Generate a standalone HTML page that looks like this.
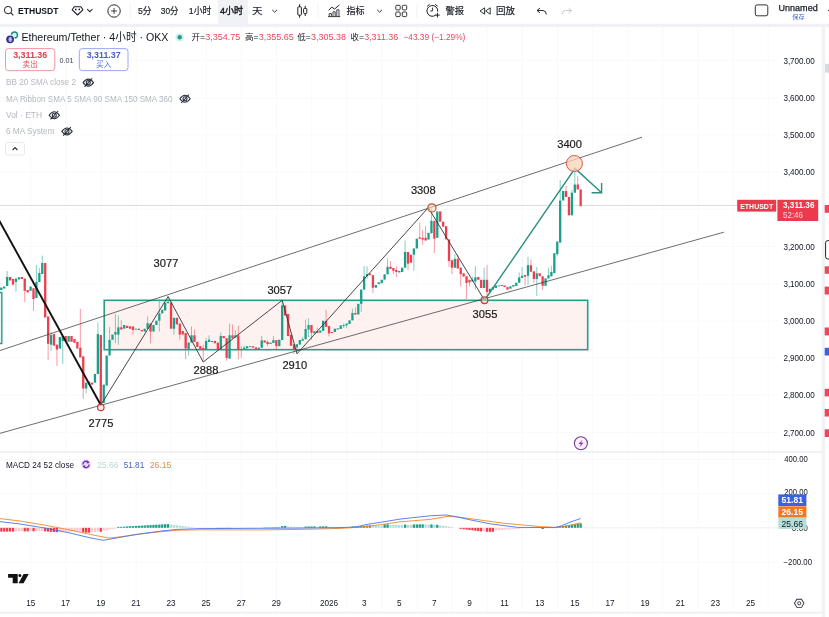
<!DOCTYPE html><html lang="zh"><head><meta charset="utf-8"><title>ETHUSDT</title>
<style>html,body{margin:0;padding:0;background:#fff;overflow:hidden}svg{display:block;filter:blur(0.35px)}text{font-family:'Liberation Sans','Noto Sans CJK SC',sans-serif;dominant-baseline:alphabetic}</style></head><body>
<svg width="829" height="617" viewBox="0 0 829 617">
<rect width="829" height="617" fill="#ffffff"/>
<rect x="0" y="23.8" width="829" height="3.2" fill="#f0f1f4"/>
<rect x="821.7" y="23.8" width="3.5" height="593.2" fill="#f1f2f5"/>
<rect x="0" y="611.6" width="822" height="2.2" fill="#f1f2f5"/>
<rect x="825" y="63.8" width="4" height="8.8" fill="#d9dadd"/>
<line x1="30.7" y1="27" x2="30.7" y2="611" stroke="#f6f7f9" stroke-width="0.8"/>
<line x1="65.8" y1="27" x2="65.8" y2="611" stroke="#f6f7f9" stroke-width="0.8"/>
<line x1="100.9" y1="27" x2="100.9" y2="611" stroke="#f6f7f9" stroke-width="0.8"/>
<line x1="136.1" y1="27" x2="136.1" y2="611" stroke="#f6f7f9" stroke-width="0.8"/>
<line x1="171.2" y1="27" x2="171.2" y2="611" stroke="#f6f7f9" stroke-width="0.8"/>
<line x1="206.3" y1="27" x2="206.3" y2="611" stroke="#f6f7f9" stroke-width="0.8"/>
<line x1="241.4" y1="27" x2="241.4" y2="611" stroke="#f6f7f9" stroke-width="0.8"/>
<line x1="276.5" y1="27" x2="276.5" y2="611" stroke="#f6f7f9" stroke-width="0.8"/>
<line x1="311.7" y1="27" x2="311.7" y2="611" stroke="#f6f7f9" stroke-width="0.8"/>
<line x1="346.8" y1="27" x2="346.8" y2="611" stroke="#f6f7f9" stroke-width="0.8"/>
<line x1="381.9" y1="27" x2="381.9" y2="611" stroke="#f6f7f9" stroke-width="0.8"/>
<line x1="417.0" y1="27" x2="417.0" y2="611" stroke="#f6f7f9" stroke-width="0.8"/>
<line x1="452.1" y1="27" x2="452.1" y2="611" stroke="#f6f7f9" stroke-width="0.8"/>
<line x1="487.3" y1="27" x2="487.3" y2="611" stroke="#f6f7f9" stroke-width="0.8"/>
<line x1="522.4" y1="27" x2="522.4" y2="611" stroke="#f6f7f9" stroke-width="0.8"/>
<line x1="557.5" y1="27" x2="557.5" y2="611" stroke="#f6f7f9" stroke-width="0.8"/>
<line x1="592.6" y1="27" x2="592.6" y2="611" stroke="#f6f7f9" stroke-width="0.8"/>
<line x1="627.7" y1="27" x2="627.7" y2="611" stroke="#f6f7f9" stroke-width="0.8"/>
<line x1="662.9" y1="27" x2="662.9" y2="611" stroke="#f6f7f9" stroke-width="0.8"/>
<line x1="698.0" y1="27" x2="698.0" y2="611" stroke="#f6f7f9" stroke-width="0.8"/>
<line x1="733.1" y1="27" x2="733.1" y2="611" stroke="#f6f7f9" stroke-width="0.8"/>
<line x1="768.2" y1="27" x2="768.2" y2="611" stroke="#f6f7f9" stroke-width="0.8"/>
<line x1="0" y1="432.6" x2="778" y2="432.6" stroke="#f6f7f9" stroke-width="0.8"/>
<line x1="0" y1="395.4" x2="778" y2="395.4" stroke="#f6f7f9" stroke-width="0.8"/>
<line x1="0" y1="358.2" x2="778" y2="358.2" stroke="#f6f7f9" stroke-width="0.8"/>
<line x1="0" y1="321.0" x2="778" y2="321.0" stroke="#f6f7f9" stroke-width="0.8"/>
<line x1="0" y1="283.8" x2="778" y2="283.8" stroke="#f6f7f9" stroke-width="0.8"/>
<line x1="0" y1="246.6" x2="778" y2="246.6" stroke="#f6f7f9" stroke-width="0.8"/>
<line x1="0" y1="209.4" x2="778" y2="209.4" stroke="#f6f7f9" stroke-width="0.8"/>
<line x1="0" y1="172.2" x2="778" y2="172.2" stroke="#f6f7f9" stroke-width="0.8"/>
<line x1="0" y1="135.0" x2="778" y2="135.0" stroke="#f6f7f9" stroke-width="0.8"/>
<line x1="0" y1="97.8" x2="778" y2="97.8" stroke="#f6f7f9" stroke-width="0.8"/>
<line x1="0" y1="60.6" x2="778" y2="60.6" stroke="#f6f7f9" stroke-width="0.8"/>
<line x1="0" y1="459.5" x2="778" y2="459.5" stroke="#f6f7f9" stroke-width="0.8"/>
<line x1="0" y1="493.6" x2="778" y2="493.6" stroke="#f6f7f9" stroke-width="0.8"/>
<line x1="0" y1="527.7" x2="778" y2="527.7" stroke="#f6f7f9" stroke-width="0.8"/>
<line x1="0" y1="561.8" x2="778" y2="561.8" stroke="#f6f7f9" stroke-width="0.8"/>
<line x1="0" y1="452" x2="822" y2="452" stroke="#e0e3eb" stroke-width="1"/>
<rect x="104.2" y="300.3" width="483.5" height="49.4" fill="#fdf1ee" fill-opacity="0.9" stroke="#2a9d8a" stroke-width="1.6"/>
<path d="M-5 292.5 H1.8 V343.5 H-5" fill="#e9f6f3" stroke="#2a9d8a" stroke-width="1.4"/>
<line x1="0" y1="205.4" x2="737" y2="205.4" stroke="#cfcfd2" stroke-width="0.7"/>
<rect x="0.17" y="287.5" width="2.3" height="2.5" fill="#1a9f8a"/>
<rect x="3.09" y="286.5" width="2.3" height="2.0" fill="#1a9f8a"/>
<line x1="7.17" y1="271" x2="7.17" y2="286" stroke="#1a9f8a" stroke-width="0.7" stroke-opacity="0.75"/>
<rect x="6.02" y="277" width="2.3" height="9.0" fill="#1a9f8a"/>
<rect x="8.94" y="277" width="2.3" height="3.5" fill="#ee3d4c"/>
<line x1="13.02" y1="279" x2="13.02" y2="286" stroke="#ee3d4c" stroke-width="0.7" stroke-opacity="0.75"/>
<rect x="11.87" y="279" width="2.3" height="5.5" fill="#ee3d4c"/>
<line x1="15.95" y1="278.6" x2="15.95" y2="291.6" stroke="#1a9f8a" stroke-width="0.7" stroke-opacity="0.75"/>
<rect x="14.80" y="278.6" width="2.3" height="3.4" fill="#1a9f8a"/>
<rect x="17.72" y="277.3" width="2.3" height="2.2" fill="#1a9f8a"/>
<rect x="20.65" y="277" width="2.3" height="2.0" fill="#ee3d4c"/>
<line x1="24.72" y1="278.6" x2="24.72" y2="302" stroke="#ee3d4c" stroke-width="0.7" stroke-opacity="0.75"/>
<rect x="23.57" y="278.6" width="2.3" height="12.2" fill="#ee3d4c"/>
<rect x="26.50" y="290" width="2.3" height="2.4" fill="#ee3d4c"/>
<rect x="29.43" y="286.5" width="2.3" height="4.3" fill="#1a9f8a"/>
<line x1="33.50" y1="288.3" x2="33.50" y2="311" stroke="#ee3d4c" stroke-width="0.7" stroke-opacity="0.75"/>
<rect x="32.35" y="288.3" width="2.3" height="10.7" fill="#ee3d4c"/>
<line x1="36.43" y1="265" x2="36.43" y2="298" stroke="#1a9f8a" stroke-width="0.7" stroke-opacity="0.75"/>
<rect x="35.28" y="282" width="2.3" height="16.0" fill="#1a9f8a"/>
<line x1="39.35" y1="268" x2="39.35" y2="282" stroke="#1a9f8a" stroke-width="0.7" stroke-opacity="0.75"/>
<rect x="38.20" y="273" width="2.3" height="9.0" fill="#1a9f8a"/>
<line x1="42.28" y1="255.6" x2="42.28" y2="274" stroke="#1a9f8a" stroke-width="0.7" stroke-opacity="0.75"/>
<rect x="41.13" y="263" width="2.3" height="11.0" fill="#1a9f8a"/>
<rect x="44.06" y="263" width="2.3" height="54.5" fill="#ee3d4c"/>
<line x1="48.13" y1="316.5" x2="48.13" y2="360" stroke="#ee3d4c" stroke-width="0.7" stroke-opacity="0.75"/>
<rect x="46.98" y="316.5" width="2.3" height="27.3" fill="#ee3d4c"/>
<line x1="51.06" y1="332" x2="51.06" y2="351" stroke="#1a9f8a" stroke-width="0.7" stroke-opacity="0.75"/>
<rect x="49.91" y="335" width="2.3" height="9.7" fill="#1a9f8a"/>
<rect x="52.83" y="334" width="2.3" height="11.7" fill="#ee3d4c"/>
<line x1="56.91" y1="344.7" x2="56.91" y2="366" stroke="#ee3d4c" stroke-width="0.7" stroke-opacity="0.75"/>
<rect x="55.76" y="344.7" width="2.3" height="4.9" fill="#ee3d4c"/>
<rect x="58.69" y="337" width="2.3" height="11.6" fill="#1a9f8a"/>
<line x1="62.76" y1="336" x2="62.76" y2="364" stroke="#1a9f8a" stroke-width="0.7" stroke-opacity="0.75"/>
<rect x="61.61" y="336" width="2.3" height="5.0" fill="#1a9f8a"/>
<rect x="64.54" y="336" width="2.3" height="5.0" fill="#ee3d4c"/>
<rect x="67.46" y="336" width="2.3" height="5.8" fill="#1a9f8a"/>
<rect x="70.39" y="336" width="2.3" height="5.8" fill="#ee3d4c"/>
<rect x="73.32" y="339" width="2.3" height="3.8" fill="#ee3d4c"/>
<rect x="76.24" y="341.8" width="2.3" height="6.8" fill="#ee3d4c"/>
<line x1="80.32" y1="308.8" x2="80.32" y2="357.4" stroke="#ee3d4c" stroke-width="0.7" stroke-opacity="0.75"/>
<rect x="79.17" y="347.7" width="2.3" height="9.7" fill="#ee3d4c"/>
<line x1="83.24" y1="356.4" x2="83.24" y2="399" stroke="#ee3d4c" stroke-width="0.7" stroke-opacity="0.75"/>
<rect x="82.09" y="356.4" width="2.3" height="32.1" fill="#ee3d4c"/>
<line x1="86.17" y1="382.7" x2="86.17" y2="393.4" stroke="#1a9f8a" stroke-width="0.7" stroke-opacity="0.75"/>
<rect x="85.02" y="382.7" width="2.3" height="5.8" fill="#1a9f8a"/>
<rect x="87.95" y="381.7" width="2.3" height="2.9" fill="#1a9f8a"/>
<rect x="90.87" y="382.7" width="2.3" height="1.9" fill="#ee3d4c"/>
<rect x="93.80" y="374" width="2.3" height="8.7" fill="#1a9f8a"/>
<line x1="97.87" y1="322.4" x2="97.87" y2="374" stroke="#1a9f8a" stroke-width="0.7" stroke-opacity="0.75"/>
<rect x="96.72" y="334" width="2.3" height="40.0" fill="#1a9f8a"/>
<rect x="99.65" y="335" width="2.3" height="70.0" fill="#ee3d4c"/>
<rect x="102.58" y="384.6" width="2.3" height="18.4" fill="#1a9f8a"/>
<rect x="105.50" y="355.5" width="2.3" height="30.1" fill="#1a9f8a"/>
<line x1="109.58" y1="327" x2="109.58" y2="355.4" stroke="#1a9f8a" stroke-width="0.7" stroke-opacity="0.75"/>
<rect x="108.43" y="339.8" width="2.3" height="15.6" fill="#1a9f8a"/>
<rect x="111.35" y="334.6" width="2.3" height="5.2" fill="#1a9f8a"/>
<line x1="115.43" y1="314" x2="115.43" y2="343" stroke="#1a9f8a" stroke-width="0.7" stroke-opacity="0.75"/>
<rect x="114.28" y="332" width="2.3" height="2.6" fill="#1a9f8a"/>
<line x1="118.36" y1="315.6" x2="118.36" y2="344.8" stroke="#1a9f8a" stroke-width="0.7" stroke-opacity="0.75"/>
<rect x="117.21" y="327.3" width="2.3" height="7.3" fill="#1a9f8a"/>
<line x1="121.28" y1="320" x2="121.28" y2="329.5" stroke="#ee3d4c" stroke-width="0.7" stroke-opacity="0.75"/>
<rect x="120.13" y="327.3" width="2.3" height="2.2" fill="#ee3d4c"/>
<rect x="123.06" y="325" width="2.3" height="3.7" fill="#1a9f8a"/>
<rect x="125.98" y="325.8" width="2.3" height="2.2" fill="#ee3d4c"/>
<rect x="128.91" y="326.3" width="2.3" height="2.4" fill="#ee3d4c"/>
<line x1="132.99" y1="326.5" x2="132.99" y2="334.6" stroke="#ee3d4c" stroke-width="0.7" stroke-opacity="0.75"/>
<rect x="131.84" y="326.5" width="2.3" height="3.5" fill="#ee3d4c"/>
<rect x="134.76" y="328.7" width="2.3" height="0.9" fill="#1a9f8a"/>
<rect x="137.69" y="328.7" width="2.3" height="1.3" fill="#1a9f8a"/>
<rect x="140.61" y="329.9" width="2.3" height="1.5" fill="#ee3d4c"/>
<rect x="143.54" y="328.7" width="2.3" height="2.9" fill="#1a9f8a"/>
<line x1="147.62" y1="316.3" x2="147.62" y2="328.7" stroke="#1a9f8a" stroke-width="0.7" stroke-opacity="0.75"/>
<rect x="146.47" y="323.2" width="2.3" height="5.5" fill="#1a9f8a"/>
<line x1="150.54" y1="323.6" x2="150.54" y2="343.3" stroke="#ee3d4c" stroke-width="0.7" stroke-opacity="0.75"/>
<rect x="149.39" y="323.6" width="2.3" height="8.0" fill="#ee3d4c"/>
<rect x="152.32" y="325" width="2.3" height="6.6" fill="#1a9f8a"/>
<rect x="155.24" y="320.7" width="2.3" height="4.3" fill="#1a9f8a"/>
<line x1="159.32" y1="301" x2="159.32" y2="331.6" stroke="#1a9f8a" stroke-width="0.7" stroke-opacity="0.75"/>
<rect x="158.17" y="313.4" width="2.3" height="7.3" fill="#1a9f8a"/>
<rect x="161.10" y="309.8" width="2.3" height="3.6" fill="#1a9f8a"/>
<rect x="164.02" y="302.5" width="2.3" height="8.0" fill="#1a9f8a"/>
<line x1="168.10" y1="296.7" x2="168.10" y2="303.2" stroke="#1a9f8a" stroke-width="0.7" stroke-opacity="0.75"/>
<rect x="166.95" y="301.8" width="2.3" height="1.4" fill="#1a9f8a"/>
<rect x="169.87" y="302.5" width="2.3" height="26.2" fill="#ee3d4c"/>
<line x1="173.95" y1="317.8" x2="173.95" y2="334.6" stroke="#1a9f8a" stroke-width="0.7" stroke-opacity="0.75"/>
<rect x="172.80" y="317.8" width="2.3" height="10.9" fill="#1a9f8a"/>
<rect x="175.73" y="317.8" width="2.3" height="6.6" fill="#ee3d4c"/>
<line x1="179.80" y1="323.6" x2="179.80" y2="339.7" stroke="#ee3d4c" stroke-width="0.7" stroke-opacity="0.75"/>
<rect x="178.65" y="323.6" width="2.3" height="11.0" fill="#ee3d4c"/>
<rect x="181.58" y="331" width="2.3" height="3.6" fill="#ee3d4c"/>
<line x1="185.65" y1="333" x2="185.65" y2="359.3" stroke="#ee3d4c" stroke-width="0.7" stroke-opacity="0.75"/>
<rect x="184.50" y="333" width="2.3" height="15.4" fill="#ee3d4c"/>
<line x1="188.58" y1="342.6" x2="188.58" y2="355.7" stroke="#1a9f8a" stroke-width="0.7" stroke-opacity="0.75"/>
<rect x="187.43" y="342.6" width="2.3" height="6.4" fill="#1a9f8a"/>
<line x1="191.51" y1="326.5" x2="191.51" y2="342.6" stroke="#1a9f8a" stroke-width="0.7" stroke-opacity="0.75"/>
<rect x="190.36" y="335.3" width="2.3" height="7.3" fill="#1a9f8a"/>
<line x1="194.43" y1="329.5" x2="194.43" y2="341.9" stroke="#ee3d4c" stroke-width="0.7" stroke-opacity="0.75"/>
<rect x="193.28" y="335.3" width="2.3" height="6.6" fill="#ee3d4c"/>
<rect x="196.21" y="341.9" width="2.3" height="5.1" fill="#ee3d4c"/>
<rect x="199.13" y="346.2" width="2.3" height="3.7" fill="#ee3d4c"/>
<line x1="203.21" y1="344.8" x2="203.21" y2="361.5" stroke="#ee3d4c" stroke-width="0.7" stroke-opacity="0.75"/>
<rect x="202.06" y="348" width="2.3" height="2.0" fill="#ee3d4c"/>
<line x1="206.14" y1="338.2" x2="206.14" y2="349.9" stroke="#1a9f8a" stroke-width="0.7" stroke-opacity="0.75"/>
<rect x="204.99" y="341" width="2.3" height="8.9" fill="#1a9f8a"/>
<line x1="209.06" y1="335.3" x2="209.06" y2="341.9" stroke="#1a9f8a" stroke-width="0.7" stroke-opacity="0.75"/>
<rect x="207.91" y="339.7" width="2.3" height="2.2" fill="#1a9f8a"/>
<rect x="210.84" y="341" width="2.3" height="1.0" fill="#1a9f8a"/>
<rect x="213.76" y="341" width="2.3" height="2.3" fill="#ee3d4c"/>
<rect x="216.69" y="342.6" width="2.3" height="7.3" fill="#ee3d4c"/>
<line x1="220.77" y1="332.4" x2="220.77" y2="349" stroke="#1a9f8a" stroke-width="0.7" stroke-opacity="0.75"/>
<rect x="219.62" y="336" width="2.3" height="13.0" fill="#1a9f8a"/>
<rect x="222.54" y="336" width="2.3" height="2.2" fill="#ee3d4c"/>
<line x1="226.62" y1="338.2" x2="226.62" y2="360.8" stroke="#ee3d4c" stroke-width="0.7" stroke-opacity="0.75"/>
<rect x="225.47" y="338.2" width="2.3" height="19.7" fill="#ee3d4c"/>
<line x1="229.54" y1="323.6" x2="229.54" y2="358.6" stroke="#1a9f8a" stroke-width="0.7" stroke-opacity="0.75"/>
<rect x="228.39" y="335.3" width="2.3" height="23.3" fill="#1a9f8a"/>
<line x1="232.47" y1="324.4" x2="232.47" y2="338.2" stroke="#ee3d4c" stroke-width="0.7" stroke-opacity="0.75"/>
<rect x="231.32" y="335.3" width="2.3" height="2.9" fill="#ee3d4c"/>
<line x1="235.40" y1="330.2" x2="235.40" y2="337.5" stroke="#1a9f8a" stroke-width="0.7" stroke-opacity="0.75"/>
<rect x="234.25" y="335.3" width="2.3" height="2.2" fill="#1a9f8a"/>
<line x1="238.32" y1="325.8" x2="238.32" y2="359.3" stroke="#ee3d4c" stroke-width="0.7" stroke-opacity="0.75"/>
<rect x="237.17" y="335.3" width="2.3" height="14.6" fill="#ee3d4c"/>
<line x1="241.25" y1="346.2" x2="241.25" y2="357.9" stroke="#ee3d4c" stroke-width="0.7" stroke-opacity="0.75"/>
<rect x="240.10" y="349" width="2.3" height="1.0" fill="#ee3d4c"/>
<line x1="244.17" y1="345.5" x2="244.17" y2="349.1" stroke="#1a9f8a" stroke-width="0.7" stroke-opacity="0.75"/>
<rect x="243.02" y="347.7" width="2.3" height="1.4" fill="#1a9f8a"/>
<rect x="245.95" y="346.2" width="2.3" height="2.2" fill="#1a9f8a"/>
<rect x="248.88" y="346.2" width="2.3" height="0.9" fill="#1a9f8a"/>
<rect x="251.80" y="346.2" width="2.3" height="1.5" fill="#ee3d4c"/>
<rect x="254.73" y="347.4" width="2.3" height="1.7" fill="#ee3d4c"/>
<rect x="257.65" y="347.7" width="2.3" height="1.4" fill="#1a9f8a"/>
<line x1="261.73" y1="336" x2="261.73" y2="347.7" stroke="#1a9f8a" stroke-width="0.7" stroke-opacity="0.75"/>
<rect x="260.58" y="340.4" width="2.3" height="7.3" fill="#1a9f8a"/>
<rect x="263.51" y="340.4" width="2.3" height="2.2" fill="#ee3d4c"/>
<line x1="267.58" y1="340.4" x2="267.58" y2="346.2" stroke="#ee3d4c" stroke-width="0.7" stroke-opacity="0.75"/>
<rect x="266.43" y="341.9" width="2.3" height="2.1" fill="#ee3d4c"/>
<rect x="269.36" y="342.6" width="2.3" height="1.4" fill="#1a9f8a"/>
<line x1="273.43" y1="336" x2="273.43" y2="343" stroke="#1a9f8a" stroke-width="0.7" stroke-opacity="0.75"/>
<rect x="272.28" y="340.1" width="2.3" height="2.9" fill="#1a9f8a"/>
<line x1="276.36" y1="340.1" x2="276.36" y2="349.1" stroke="#ee3d4c" stroke-width="0.7" stroke-opacity="0.75"/>
<rect x="275.21" y="340.1" width="2.3" height="6.1" fill="#ee3d4c"/>
<rect x="278.14" y="339.7" width="2.3" height="6.5" fill="#1a9f8a"/>
<line x1="282.21" y1="300.3" x2="282.21" y2="340" stroke="#1a9f8a" stroke-width="0.7" stroke-opacity="0.75"/>
<rect x="281.06" y="305.4" width="2.3" height="34.6" fill="#1a9f8a"/>
<rect x="283.99" y="305.4" width="2.3" height="10.2" fill="#ee3d4c"/>
<rect x="286.91" y="314" width="2.3" height="22.0" fill="#ee3d4c"/>
<rect x="289.84" y="334.9" width="2.3" height="10.9" fill="#ee3d4c"/>
<line x1="293.92" y1="344.3" x2="293.92" y2="353.8" stroke="#ee3d4c" stroke-width="0.7" stroke-opacity="0.75"/>
<rect x="292.77" y="344.3" width="2.3" height="5.1" fill="#ee3d4c"/>
<line x1="296.84" y1="344.3" x2="296.84" y2="352" stroke="#1a9f8a" stroke-width="0.7" stroke-opacity="0.75"/>
<rect x="295.69" y="344.3" width="2.3" height="3.0" fill="#1a9f8a"/>
<rect x="298.62" y="340" width="2.3" height="4.6" fill="#1a9f8a"/>
<line x1="302.69" y1="337" x2="302.69" y2="340.7" stroke="#1a9f8a" stroke-width="0.7" stroke-opacity="0.75"/>
<rect x="301.54" y="339.2" width="2.3" height="1.5" fill="#1a9f8a"/>
<line x1="305.62" y1="319.6" x2="305.62" y2="339.2" stroke="#1a9f8a" stroke-width="0.7" stroke-opacity="0.75"/>
<rect x="304.47" y="329" width="2.3" height="10.2" fill="#1a9f8a"/>
<line x1="308.55" y1="318.1" x2="308.55" y2="337" stroke="#1a9f8a" stroke-width="0.7" stroke-opacity="0.75"/>
<rect x="307.40" y="325.1" width="2.3" height="4.4" fill="#1a9f8a"/>
<line x1="311.47" y1="325.1" x2="311.47" y2="340" stroke="#ee3d4c" stroke-width="0.7" stroke-opacity="0.75"/>
<rect x="310.32" y="325.1" width="2.3" height="7.6" fill="#ee3d4c"/>
<rect x="313.25" y="331.2" width="2.3" height="2.2" fill="#1a9f8a"/>
<line x1="317.32" y1="327.6" x2="317.32" y2="333" stroke="#ee3d4c" stroke-width="0.7" stroke-opacity="0.75"/>
<rect x="316.17" y="331.2" width="2.3" height="1.8" fill="#ee3d4c"/>
<rect x="319.10" y="330.5" width="2.3" height="2.2" fill="#1a9f8a"/>
<rect x="322.03" y="320.7" width="2.3" height="10.2" fill="#1a9f8a"/>
<line x1="326.10" y1="310" x2="326.10" y2="326.9" stroke="#ee3d4c" stroke-width="0.7" stroke-opacity="0.75"/>
<rect x="324.95" y="321" width="2.3" height="5.9" fill="#ee3d4c"/>
<line x1="329.03" y1="326.1" x2="329.03" y2="336.3" stroke="#ee3d4c" stroke-width="0.7" stroke-opacity="0.75"/>
<rect x="327.88" y="326.1" width="2.3" height="7.3" fill="#ee3d4c"/>
<rect x="330.80" y="332" width="2.3" height="1.0" fill="#ee3d4c"/>
<rect x="333.73" y="328.7" width="2.3" height="3.3" fill="#1a9f8a"/>
<rect x="336.66" y="328.3" width="2.3" height="1.2" fill="#1a9f8a"/>
<rect x="339.58" y="325.4" width="2.3" height="3.6" fill="#1a9f8a"/>
<line x1="343.66" y1="323.5" x2="343.66" y2="328" stroke="#1a9f8a" stroke-width="0.7" stroke-opacity="0.75"/>
<rect x="342.51" y="325.1" width="2.3" height="1.0" fill="#1a9f8a"/>
<line x1="346.58" y1="323.6" x2="346.58" y2="328.3" stroke="#1a9f8a" stroke-width="0.7" stroke-opacity="0.75"/>
<rect x="345.43" y="323.6" width="2.3" height="1.8" fill="#1a9f8a"/>
<rect x="348.36" y="320.3" width="2.3" height="3.7" fill="#1a9f8a"/>
<line x1="352.44" y1="308.6" x2="352.44" y2="320.3" stroke="#1a9f8a" stroke-width="0.7" stroke-opacity="0.75"/>
<rect x="351.29" y="313" width="2.3" height="7.3" fill="#1a9f8a"/>
<line x1="355.36" y1="307.2" x2="355.36" y2="314.5" stroke="#ee3d4c" stroke-width="0.7" stroke-opacity="0.75"/>
<rect x="354.21" y="313" width="2.3" height="1.5" fill="#ee3d4c"/>
<rect x="357.14" y="303.8" width="2.3" height="10.7" fill="#1a9f8a"/>
<line x1="361.21" y1="289.6" x2="361.21" y2="312" stroke="#1a9f8a" stroke-width="0.7" stroke-opacity="0.75"/>
<rect x="360.06" y="289.6" width="2.3" height="14.2" fill="#1a9f8a"/>
<line x1="364.14" y1="266" x2="364.14" y2="289.6" stroke="#1a9f8a" stroke-width="0.7" stroke-opacity="0.75"/>
<rect x="362.99" y="276.3" width="2.3" height="13.3" fill="#1a9f8a"/>
<line x1="367.07" y1="266.3" x2="367.07" y2="279" stroke="#1a9f8a" stroke-width="0.7" stroke-opacity="0.75"/>
<rect x="365.92" y="274" width="2.3" height="2.3" fill="#1a9f8a"/>
<rect x="368.84" y="273.5" width="2.3" height="1.7" fill="#ee3d4c"/>
<line x1="372.92" y1="275.2" x2="372.92" y2="293" stroke="#ee3d4c" stroke-width="0.7" stroke-opacity="0.75"/>
<rect x="371.77" y="275.2" width="2.3" height="12.5" fill="#ee3d4c"/>
<rect x="374.69" y="285" width="2.3" height="2.7" fill="#1a9f8a"/>
<rect x="377.62" y="282.3" width="2.3" height="1.8" fill="#1a9f8a"/>
<rect x="380.55" y="279.7" width="2.3" height="3.5" fill="#1a9f8a"/>
<rect x="383.47" y="274.3" width="2.3" height="5.4" fill="#1a9f8a"/>
<line x1="387.55" y1="258.3" x2="387.55" y2="274.3" stroke="#1a9f8a" stroke-width="0.7" stroke-opacity="0.75"/>
<rect x="386.40" y="266.8" width="2.3" height="7.5" fill="#1a9f8a"/>
<line x1="390.47" y1="261" x2="390.47" y2="269" stroke="#ee3d4c" stroke-width="0.7" stroke-opacity="0.75"/>
<rect x="389.32" y="266.8" width="2.3" height="2.2" fill="#ee3d4c"/>
<line x1="393.40" y1="268" x2="393.40" y2="274.3" stroke="#ee3d4c" stroke-width="0.7" stroke-opacity="0.75"/>
<rect x="392.25" y="268" width="2.3" height="2.8" fill="#ee3d4c"/>
<line x1="396.33" y1="266.3" x2="396.33" y2="277" stroke="#ee3d4c" stroke-width="0.7" stroke-opacity="0.75"/>
<rect x="395.18" y="269.9" width="2.3" height="2.1" fill="#ee3d4c"/>
<rect x="398.10" y="270.8" width="2.3" height="1.7" fill="#1a9f8a"/>
<rect x="401.03" y="267.7" width="2.3" height="4.3" fill="#1a9f8a"/>
<line x1="405.10" y1="240.5" x2="405.10" y2="267.7" stroke="#1a9f8a" stroke-width="0.7" stroke-opacity="0.75"/>
<rect x="403.95" y="252" width="2.3" height="15.7" fill="#1a9f8a"/>
<line x1="408.03" y1="252" x2="408.03" y2="269.9" stroke="#ee3d4c" stroke-width="0.7" stroke-opacity="0.75"/>
<rect x="406.88" y="252" width="2.3" height="11.6" fill="#ee3d4c"/>
<rect x="409.81" y="254.7" width="2.3" height="8.0" fill="#ee3d4c"/>
<line x1="413.88" y1="248.5" x2="413.88" y2="270.8" stroke="#1a9f8a" stroke-width="0.7" stroke-opacity="0.75"/>
<rect x="412.73" y="248.5" width="2.3" height="6.2" fill="#1a9f8a"/>
<rect x="415.66" y="238.7" width="2.3" height="9.8" fill="#1a9f8a"/>
<line x1="419.73" y1="222.6" x2="419.73" y2="238.7" stroke="#ee3d4c" stroke-width="0.7" stroke-opacity="0.75"/>
<rect x="418.58" y="237.4" width="2.3" height="1.3" fill="#ee3d4c"/>
<line x1="422.66" y1="229.8" x2="422.66" y2="245" stroke="#ee3d4c" stroke-width="0.7" stroke-opacity="0.75"/>
<rect x="421.51" y="237.8" width="2.3" height="1.8" fill="#ee3d4c"/>
<line x1="425.59" y1="226.2" x2="425.59" y2="240.5" stroke="#ee3d4c" stroke-width="0.7" stroke-opacity="0.75"/>
<rect x="424.44" y="237.8" width="2.3" height="2.7" fill="#ee3d4c"/>
<rect x="427.36" y="232.8" width="2.3" height="6.8" fill="#1a9f8a"/>
<line x1="431.44" y1="207.5" x2="431.44" y2="233.3" stroke="#1a9f8a" stroke-width="0.7" stroke-opacity="0.75"/>
<rect x="430.29" y="220.8" width="2.3" height="12.5" fill="#1a9f8a"/>
<line x1="434.36" y1="220.8" x2="434.36" y2="253" stroke="#ee3d4c" stroke-width="0.7" stroke-opacity="0.75"/>
<rect x="433.21" y="220.8" width="2.3" height="17.9" fill="#ee3d4c"/>
<rect x="436.14" y="211.4" width="2.3" height="26.4" fill="#1a9f8a"/>
<rect x="439.07" y="211.4" width="2.3" height="10.3" fill="#ee3d4c"/>
<rect x="441.99" y="221.7" width="2.3" height="5.0" fill="#ee3d4c"/>
<rect x="444.92" y="226.2" width="2.3" height="13.2" fill="#ee3d4c"/>
<line x1="448.99" y1="239.4" x2="448.99" y2="267" stroke="#ee3d4c" stroke-width="0.7" stroke-opacity="0.75"/>
<rect x="447.84" y="239.4" width="2.3" height="21.6" fill="#ee3d4c"/>
<line x1="451.92" y1="260.2" x2="451.92" y2="274.2" stroke="#ee3d4c" stroke-width="0.7" stroke-opacity="0.75"/>
<rect x="450.77" y="260.2" width="2.3" height="7.5" fill="#ee3d4c"/>
<line x1="454.85" y1="254" x2="454.85" y2="267.7" stroke="#1a9f8a" stroke-width="0.7" stroke-opacity="0.75"/>
<rect x="453.70" y="258.8" width="2.3" height="8.9" fill="#1a9f8a"/>
<line x1="457.77" y1="254.7" x2="457.77" y2="268.5" stroke="#ee3d4c" stroke-width="0.7" stroke-opacity="0.75"/>
<rect x="456.62" y="258.8" width="2.3" height="9.7" fill="#ee3d4c"/>
<line x1="460.70" y1="267.7" x2="460.70" y2="286.3" stroke="#ee3d4c" stroke-width="0.7" stroke-opacity="0.75"/>
<rect x="459.55" y="267.7" width="2.3" height="6.5" fill="#ee3d4c"/>
<rect x="462.47" y="273.3" width="2.3" height="3.3" fill="#ee3d4c"/>
<line x1="466.55" y1="276.3" x2="466.55" y2="299.3" stroke="#ee3d4c" stroke-width="0.7" stroke-opacity="0.75"/>
<rect x="465.40" y="276.3" width="2.3" height="6.7" fill="#ee3d4c"/>
<line x1="469.48" y1="279.8" x2="469.48" y2="286.3" stroke="#ee3d4c" stroke-width="0.7" stroke-opacity="0.75"/>
<rect x="468.33" y="279.8" width="2.3" height="2.5" fill="#ee3d4c"/>
<line x1="472.40" y1="276.6" x2="472.40" y2="281.5" stroke="#1a9f8a" stroke-width="0.7" stroke-opacity="0.75"/>
<rect x="471.25" y="279.8" width="2.3" height="1.7" fill="#1a9f8a"/>
<line x1="475.33" y1="266" x2="475.33" y2="289.6" stroke="#1a9f8a" stroke-width="0.7" stroke-opacity="0.75"/>
<rect x="474.18" y="277.4" width="2.3" height="4.1" fill="#1a9f8a"/>
<rect x="477.10" y="277" width="2.3" height="2.8" fill="#ee3d4c"/>
<rect x="480.03" y="279.8" width="2.3" height="8.2" fill="#ee3d4c"/>
<line x1="484.11" y1="267.7" x2="484.11" y2="288" stroke="#1a9f8a" stroke-width="0.7" stroke-opacity="0.75"/>
<rect x="482.96" y="279.8" width="2.3" height="8.2" fill="#1a9f8a"/>
<line x1="487.03" y1="265.2" x2="487.03" y2="297.7" stroke="#ee3d4c" stroke-width="0.7" stroke-opacity="0.75"/>
<rect x="485.88" y="279.8" width="2.3" height="12.2" fill="#ee3d4c"/>
<rect x="488.81" y="288.7" width="2.3" height="3.3" fill="#1a9f8a"/>
<rect x="491.73" y="287.1" width="2.3" height="2.5" fill="#1a9f8a"/>
<rect x="494.66" y="285.5" width="2.3" height="2.5" fill="#1a9f8a"/>
<rect x="497.59" y="285.5" width="2.3" height="0.9" fill="#1a9f8a"/>
<rect x="500.51" y="285" width="2.3" height="1.0" fill="#ee3d4c"/>
<rect x="503.44" y="285.5" width="2.3" height="1.6" fill="#ee3d4c"/>
<rect x="506.36" y="287.1" width="2.3" height="2.5" fill="#ee3d4c"/>
<rect x="509.29" y="286.3" width="2.3" height="2.4" fill="#1a9f8a"/>
<rect x="512.22" y="285" width="2.3" height="1.6" fill="#1a9f8a"/>
<rect x="515.14" y="282.7" width="2.3" height="3.3" fill="#1a9f8a"/>
<line x1="519.22" y1="272.5" x2="519.22" y2="282.7" stroke="#1a9f8a" stroke-width="0.7" stroke-opacity="0.75"/>
<rect x="518.07" y="277.4" width="2.3" height="5.3" fill="#1a9f8a"/>
<line x1="522.14" y1="266.9" x2="522.14" y2="277.9" stroke="#1a9f8a" stroke-width="0.7" stroke-opacity="0.75"/>
<rect x="520.99" y="275.8" width="2.3" height="2.1" fill="#1a9f8a"/>
<line x1="525.07" y1="275" x2="525.07" y2="285.5" stroke="#ee3d4c" stroke-width="0.7" stroke-opacity="0.75"/>
<rect x="523.92" y="275" width="2.3" height="1.6" fill="#ee3d4c"/>
<line x1="528.00" y1="257" x2="528.00" y2="284.7" stroke="#1a9f8a" stroke-width="0.7" stroke-opacity="0.75"/>
<rect x="526.85" y="265.2" width="2.3" height="10.6" fill="#1a9f8a"/>
<line x1="530.92" y1="259.6" x2="530.92" y2="271.7" stroke="#ee3d4c" stroke-width="0.7" stroke-opacity="0.75"/>
<rect x="529.77" y="265.2" width="2.3" height="6.5" fill="#ee3d4c"/>
<line x1="533.85" y1="271.4" x2="533.85" y2="283" stroke="#ee3d4c" stroke-width="0.7" stroke-opacity="0.75"/>
<rect x="532.70" y="271.4" width="2.3" height="7.6" fill="#ee3d4c"/>
<line x1="536.77" y1="267" x2="536.77" y2="296" stroke="#1a9f8a" stroke-width="0.7" stroke-opacity="0.75"/>
<rect x="535.62" y="273.3" width="2.3" height="5.7" fill="#1a9f8a"/>
<rect x="538.55" y="273.3" width="2.3" height="3.0" fill="#ee3d4c"/>
<line x1="542.63" y1="276.3" x2="542.63" y2="290" stroke="#ee3d4c" stroke-width="0.7" stroke-opacity="0.75"/>
<rect x="541.48" y="276.3" width="2.3" height="9.5" fill="#ee3d4c"/>
<rect x="544.40" y="278.4" width="2.3" height="7.4" fill="#1a9f8a"/>
<line x1="548.48" y1="268" x2="548.48" y2="278.4" stroke="#1a9f8a" stroke-width="0.7" stroke-opacity="0.75"/>
<rect x="547.33" y="275.3" width="2.3" height="3.1" fill="#1a9f8a"/>
<line x1="551.40" y1="265.8" x2="551.40" y2="276.3" stroke="#1a9f8a" stroke-width="0.7" stroke-opacity="0.75"/>
<rect x="550.25" y="272" width="2.3" height="4.3" fill="#1a9f8a"/>
<rect x="553.18" y="253.2" width="2.3" height="20.0" fill="#1a9f8a"/>
<line x1="557.26" y1="241.6" x2="557.26" y2="256.3" stroke="#1a9f8a" stroke-width="0.7" stroke-opacity="0.75"/>
<rect x="556.11" y="241.6" width="2.3" height="12.6" fill="#1a9f8a"/>
<line x1="560.18" y1="180" x2="560.18" y2="242.6" stroke="#1a9f8a" stroke-width="0.7" stroke-opacity="0.75"/>
<rect x="559.03" y="200.5" width="2.3" height="42.1" fill="#1a9f8a"/>
<rect x="561.96" y="191" width="2.3" height="9.5" fill="#1a9f8a"/>
<line x1="566.03" y1="185.8" x2="566.03" y2="197" stroke="#ee3d4c" stroke-width="0.7" stroke-opacity="0.75"/>
<rect x="564.88" y="191" width="2.3" height="6.0" fill="#ee3d4c"/>
<rect x="567.81" y="197" width="2.3" height="18.3" fill="#ee3d4c"/>
<line x1="571.89" y1="190" x2="571.89" y2="215.3" stroke="#1a9f8a" stroke-width="0.7" stroke-opacity="0.75"/>
<rect x="570.74" y="192.7" width="2.3" height="22.6" fill="#1a9f8a"/>
<line x1="574.81" y1="168.4" x2="574.81" y2="192.7" stroke="#1a9f8a" stroke-width="0.7" stroke-opacity="0.75"/>
<rect x="573.66" y="184.5" width="2.3" height="8.2" fill="#1a9f8a"/>
<line x1="577.74" y1="176" x2="577.74" y2="189.4" stroke="#ee3d4c" stroke-width="0.7" stroke-opacity="0.75"/>
<rect x="576.59" y="184.5" width="2.3" height="4.9" fill="#ee3d4c"/>
<rect x="579.51" y="189.4" width="2.3" height="16.8" fill="#ee3d4c"/>
<line x1="0" y1="350.5" x2="642" y2="137.2" stroke="#333" stroke-width="0.72"/>
<line x1="0" y1="433.3" x2="723.9" y2="232.2" stroke="#333" stroke-width="0.72"/>
<line x1="-3" y1="216.5" x2="100.8" y2="405" stroke="#111" stroke-width="1.9"/>
<polyline points="100.8,405 168.1,296.5 203.2,362 282.2,300.3 297,353.8 428.3,207.6 484.5,300.2" fill="none" stroke="#333" stroke-width="0.9" stroke-linejoin="miter"/>
<polyline points="484.6,300.2 575,168.4 601.6,192.7" fill="none" stroke="#2a8f7c" stroke-width="1.4" stroke-linejoin="miter"/>
<polyline points="591.6,192.7 601.6,192.7 601.6,182.9" fill="none" stroke="#2a8f7c" stroke-width="1.4"/>
<circle cx="100.8" cy="407.4" r="3.2" fill="#fde3dc" fill-opacity="0.5" stroke="#cf3a3e" stroke-width="1.25"/>
<circle cx="431.9" cy="207.9" r="4.1" fill="#f9d9c0" fill-opacity="0.6" stroke="#c4552f" stroke-width="1.2"/>
<circle cx="484.5" cy="300.2" r="3.3" fill="#fde3dc" fill-opacity="0.5" stroke="#cf3a3e" stroke-width="1.3"/>
<circle cx="574.4" cy="163.5" r="8" fill="#f9d3b4" fill-opacity="0.75" stroke="#d9534f" stroke-width="1"/>
<text x="166" y="267.1" font-size="11.6" fill="#1b1b1b" text-anchor="middle" textLength="24.8" lengthAdjust="spacingAndGlyphs" stroke="#1b1b1b" stroke-width="0.2">3077</text>
<text x="279.8" y="294.2" font-size="11.6" fill="#1b1b1b" text-anchor="middle" textLength="24.8" lengthAdjust="spacingAndGlyphs" stroke="#1b1b1b" stroke-width="0.2">3057</text>
<text x="206" y="374" font-size="11.6" fill="#1b1b1b" text-anchor="middle" textLength="24.8" lengthAdjust="spacingAndGlyphs" stroke="#1b1b1b" stroke-width="0.2">2888</text>
<text x="294.8" y="369" font-size="11.6" fill="#1b1b1b" text-anchor="middle" textLength="24.8" lengthAdjust="spacingAndGlyphs" stroke="#1b1b1b" stroke-width="0.2">2910</text>
<text x="101" y="427" font-size="11.6" fill="#1b1b1b" text-anchor="middle" textLength="24.8" lengthAdjust="spacingAndGlyphs" stroke="#1b1b1b" stroke-width="0.2">2775</text>
<text x="423.3" y="194" font-size="11.6" fill="#1b1b1b" text-anchor="middle" textLength="24.8" lengthAdjust="spacingAndGlyphs" stroke="#1b1b1b" stroke-width="0.2">3308</text>
<text x="485" y="318" font-size="11.6" fill="#1b1b1b" text-anchor="middle" textLength="24.8" lengthAdjust="spacingAndGlyphs" stroke="#1b1b1b" stroke-width="0.2">3055</text>
<text x="569.6" y="147.6" font-size="11.6" fill="#1b1b1b" text-anchor="middle" textLength="24.8" lengthAdjust="spacingAndGlyphs" stroke="#1b1b1b" stroke-width="0.2">3400</text>
<circle cx="580.9" cy="443.2" r="6.5" fill="#fcf1fd" stroke="#6d3f8f" stroke-width="1.1"/>
<path d="M582.6 439.6 L578.4 444 H580.9 L579.4 447.4 L583.6 442.8 H581.1 Z" fill="#8a3fb4"/>
<rect x="0.2" y="527.8" width="2.3" height="3.8" fill="#ee3d4c"/>
<rect x="3.1" y="527.8" width="2.3" height="3.8" fill="#ee3d4c"/>
<rect x="6.0" y="527.8" width="2.3" height="3.8" fill="#ee3d4c"/>
<rect x="8.9" y="527.8" width="2.3" height="3.8" fill="#ee3d4c"/>
<rect x="11.9" y="527.8" width="2.3" height="3.8" fill="#ee3d4c"/>
<rect x="14.8" y="527.8" width="2.3" height="3.6" fill="#fbc9cd"/>
<rect x="17.7" y="527.8" width="2.3" height="3.5" fill="#fbc9cd"/>
<rect x="20.6" y="527.8" width="2.3" height="3.4" fill="#fbc9cd"/>
<rect x="23.6" y="527.8" width="2.3" height="3.6" fill="#ee3d4c"/>
<rect x="26.5" y="527.8" width="2.3" height="3.6" fill="#ee3d4c"/>
<rect x="29.4" y="527.8" width="2.3" height="3.4" fill="#fbc9cd"/>
<rect x="32.4" y="527.8" width="2.3" height="3.5" fill="#ee3d4c"/>
<rect x="35.3" y="527.8" width="2.3" height="3.3" fill="#fbc9cd"/>
<rect x="38.2" y="527.8" width="2.3" height="3.3" fill="#fbc9cd"/>
<rect x="41.1" y="527.8" width="2.3" height="3.2" fill="#fbc9cd"/>
<rect x="44.1" y="527.8" width="2.3" height="3.6" fill="#ee3d4c"/>
<rect x="47.0" y="527.8" width="2.3" height="3.8" fill="#ee3d4c"/>
<rect x="49.9" y="527.8" width="2.3" height="4.0" fill="#ee3d4c"/>
<rect x="52.8" y="527.8" width="2.3" height="4.2" fill="#ee3d4c"/>
<rect x="55.8" y="527.8" width="2.3" height="4.4" fill="#ee3d4c"/>
<rect x="58.7" y="527.8" width="2.3" height="4.3" fill="#fbc9cd"/>
<rect x="61.6" y="527.8" width="2.3" height="4.2" fill="#fbc9cd"/>
<rect x="64.5" y="527.8" width="2.3" height="4.1" fill="#fbc9cd"/>
<rect x="67.5" y="527.8" width="2.3" height="4.0" fill="#fbc9cd"/>
<rect x="70.4" y="527.8" width="2.3" height="3.9" fill="#fbc9cd"/>
<rect x="73.3" y="527.8" width="2.3" height="3.8" fill="#fbc9cd"/>
<rect x="76.2" y="527.8" width="2.3" height="3.7" fill="#fbc9cd"/>
<rect x="79.2" y="527.8" width="2.3" height="3.6" fill="#fbc9cd"/>
<rect x="82.1" y="527.8" width="2.3" height="4.6" fill="#ee3d4c"/>
<rect x="85.0" y="527.8" width="2.3" height="4.8" fill="#ee3d4c"/>
<rect x="87.9" y="527.8" width="2.3" height="4.9" fill="#ee3d4c"/>
<rect x="90.9" y="527.8" width="2.3" height="4.4" fill="#fbc9cd"/>
<rect x="93.8" y="527.8" width="2.3" height="4.1" fill="#fbc9cd"/>
<rect x="96.7" y="527.8" width="2.3" height="3.7" fill="#fbc9cd"/>
<rect x="99.6" y="527.8" width="2.3" height="4.0" fill="#ee3d4c"/>
<rect x="102.6" y="527.8" width="2.3" height="2.8" fill="#fbc9cd"/>
<rect x="105.5" y="527.8" width="2.3" height="2.3" fill="#fbc9cd"/>
<rect x="108.4" y="527.8" width="2.3" height="1.8" fill="#fbc9cd"/>
<rect x="111.4" y="527.8" width="2.3" height="1.3" fill="#fbc9cd"/>
<rect x="114.3" y="527.8" width="2.3" height="0.8" fill="#fbc9cd"/>
<rect x="117.2" y="526.9" width="2.3" height="0.9" fill="#1a9f8a"/>
<rect x="120.1" y="526.8" width="2.3" height="1.0" fill="#1a9f8a"/>
<rect x="123.1" y="526.6" width="2.3" height="1.2" fill="#1a9f8a"/>
<rect x="126.0" y="526.4" width="2.3" height="1.4" fill="#1a9f8a"/>
<rect x="128.9" y="526.2" width="2.3" height="1.6" fill="#1a9f8a"/>
<rect x="131.8" y="526.1" width="2.3" height="1.7" fill="#1a9f8a"/>
<rect x="134.8" y="525.9" width="2.3" height="1.9" fill="#1a9f8a"/>
<rect x="137.7" y="525.7" width="2.3" height="2.1" fill="#1a9f8a"/>
<rect x="140.6" y="525.6" width="2.3" height="2.2" fill="#1a9f8a"/>
<rect x="143.5" y="525.4" width="2.3" height="2.4" fill="#1a9f8a"/>
<rect x="146.5" y="525.2" width="2.3" height="2.6" fill="#1a9f8a"/>
<rect x="149.4" y="525.1" width="2.3" height="2.7" fill="#1a9f8a"/>
<rect x="152.3" y="524.9" width="2.3" height="2.9" fill="#1a9f8a"/>
<rect x="155.2" y="524.7" width="2.3" height="3.1" fill="#1a9f8a"/>
<rect x="158.2" y="524.6" width="2.3" height="3.2" fill="#1a9f8a"/>
<rect x="161.1" y="524.4" width="2.3" height="3.4" fill="#1a9f8a"/>
<rect x="164.0" y="524.2" width="2.3" height="3.6" fill="#1a9f8a"/>
<rect x="166.9" y="524.1" width="2.3" height="3.7" fill="#1a9f8a"/>
<rect x="169.9" y="524.6" width="2.3" height="3.2" fill="#b0ddd6"/>
<rect x="172.8" y="525.0" width="2.3" height="2.8" fill="#b0ddd6"/>
<rect x="175.7" y="525.3" width="2.3" height="2.5" fill="#b0ddd6"/>
<rect x="178.7" y="525.7" width="2.3" height="2.1" fill="#b0ddd6"/>
<rect x="181.6" y="526.0" width="2.3" height="1.8" fill="#b0ddd6"/>
<rect x="184.5" y="526.3" width="2.3" height="1.5" fill="#b0ddd6"/>
<rect x="187.4" y="526.7" width="2.3" height="1.1" fill="#b0ddd6"/>
<rect x="190.4" y="527.0" width="2.3" height="0.8" fill="#b0ddd6"/>
<rect x="193.3" y="527.8" width="2.3" height="0.4" fill="#fbc9cd"/>
<rect x="196.2" y="527.8" width="2.3" height="0.4" fill="#fbc9cd"/>
<rect x="199.1" y="527.8" width="2.3" height="0.5" fill="#fbc9cd"/>
<rect x="202.1" y="527.8" width="2.3" height="0.5" fill="#fbc9cd"/>
<rect x="205.0" y="527.8" width="2.3" height="0.5" fill="#fbc9cd"/>
<rect x="207.9" y="527.8" width="2.3" height="0.5" fill="#fbc9cd"/>
<rect x="210.8" y="527.8" width="2.3" height="0.6" fill="#fbc9cd"/>
<rect x="213.8" y="527.8" width="2.3" height="0.6" fill="#fbc9cd"/>
<rect x="216.7" y="527.8" width="2.3" height="0.6" fill="#ee3d4c"/>
<rect x="219.6" y="527.8" width="2.3" height="0.6" fill="#ee3d4c"/>
<rect x="222.5" y="527.8" width="2.3" height="0.6" fill="#ee3d4c"/>
<rect x="225.5" y="527.8" width="2.3" height="0.6" fill="#ee3d4c"/>
<rect x="228.4" y="527.8" width="2.3" height="0.6" fill="#ee3d4c"/>
<rect x="231.3" y="527.8" width="2.3" height="0.5" fill="#fbc9cd"/>
<rect x="234.2" y="527.8" width="2.3" height="0.5" fill="#fbc9cd"/>
<rect x="237.2" y="527.8" width="2.3" height="0.5" fill="#fbc9cd"/>
<rect x="240.1" y="527.8" width="2.3" height="0.5" fill="#fbc9cd"/>
<rect x="243.0" y="527.8" width="2.3" height="0.5" fill="#fbc9cd"/>
<rect x="246.0" y="527.8" width="2.3" height="0.4" fill="#fbc9cd"/>
<rect x="248.9" y="527.8" width="2.3" height="0.4" fill="#fbc9cd"/>
<rect x="251.8" y="527.8" width="2.3" height="0.4" fill="#fbc9cd"/>
<rect x="254.7" y="527.8" width="2.3" height="0.4" fill="#fbc9cd"/>
<rect x="257.7" y="527.8" width="2.3" height="0.4" fill="#fbc9cd"/>
<rect x="260.6" y="527.8" width="2.3" height="0.4" fill="#fbc9cd"/>
<rect x="263.5" y="527.4" width="2.3" height="0.4" fill="#1a9f8a"/>
<rect x="266.4" y="527.4" width="2.3" height="0.4" fill="#1a9f8a"/>
<rect x="269.4" y="527.4" width="2.3" height="0.4" fill="#1a9f8a"/>
<rect x="272.3" y="527.3" width="2.3" height="0.5" fill="#1a9f8a"/>
<rect x="275.2" y="527.3" width="2.3" height="0.5" fill="#1a9f8a"/>
<rect x="278.1" y="527.3" width="2.3" height="0.5" fill="#1a9f8a"/>
<rect x="281.1" y="526.1" width="2.3" height="1.7" fill="#1a9f8a"/>
<rect x="284.0" y="525.9" width="2.3" height="1.9" fill="#1a9f8a"/>
<rect x="286.9" y="526.6" width="2.3" height="1.2" fill="#b0ddd6"/>
<rect x="289.8" y="526.7" width="2.3" height="1.1" fill="#b0ddd6"/>
<rect x="292.8" y="526.9" width="2.3" height="0.9" fill="#b0ddd6"/>
<rect x="295.7" y="527.0" width="2.3" height="0.8" fill="#b0ddd6"/>
<rect x="298.6" y="527.1" width="2.3" height="0.7" fill="#b0ddd6"/>
<rect x="301.5" y="527.2" width="2.3" height="0.6" fill="#b0ddd6"/>
<rect x="304.5" y="526.6" width="2.3" height="1.2" fill="#1a9f8a"/>
<rect x="307.4" y="526.5" width="2.3" height="1.3" fill="#1a9f8a"/>
<rect x="310.3" y="526.5" width="2.3" height="1.3" fill="#1a9f8a"/>
<rect x="313.2" y="526.4" width="2.3" height="1.4" fill="#1a9f8a"/>
<rect x="316.2" y="526.8" width="2.3" height="1.0" fill="#b0ddd6"/>
<rect x="319.1" y="526.4" width="2.3" height="1.4" fill="#1a9f8a"/>
<rect x="322.0" y="526.4" width="2.3" height="1.4" fill="#1a9f8a"/>
<rect x="325.0" y="526.3" width="2.3" height="1.5" fill="#1a9f8a"/>
<rect x="327.9" y="526.8" width="2.3" height="1.0" fill="#b0ddd6"/>
<rect x="330.8" y="526.8" width="2.3" height="1.0" fill="#b0ddd6"/>
<rect x="333.7" y="526.9" width="2.3" height="0.9" fill="#b0ddd6"/>
<rect x="336.7" y="526.9" width="2.3" height="0.9" fill="#b0ddd6"/>
<rect x="339.6" y="526.9" width="2.3" height="0.9" fill="#b0ddd6"/>
<rect x="342.5" y="526.9" width="2.3" height="0.9" fill="#b0ddd6"/>
<rect x="345.4" y="527.0" width="2.3" height="0.8" fill="#b0ddd6"/>
<rect x="348.4" y="527.0" width="2.3" height="0.8" fill="#b0ddd6"/>
<rect x="351.3" y="526.5" width="2.3" height="1.3" fill="#4a9a70"/>
<rect x="354.2" y="526.3" width="2.3" height="1.5" fill="#4a9a70"/>
<rect x="357.1" y="526.2" width="2.3" height="1.6" fill="#4a9a70"/>
<rect x="360.1" y="526.0" width="2.3" height="1.8" fill="#4a9a70"/>
<rect x="363.0" y="525.8" width="2.3" height="2.0" fill="#4a9a70"/>
<rect x="365.9" y="525.6" width="2.3" height="2.2" fill="#4a9a70"/>
<rect x="368.8" y="525.5" width="2.3" height="2.3" fill="#4a9a70"/>
<rect x="371.8" y="525.6" width="2.3" height="2.2" fill="#b0ddd6"/>
<rect x="374.7" y="525.6" width="2.3" height="2.2" fill="#b0ddd6"/>
<rect x="377.6" y="525.6" width="2.3" height="2.2" fill="#b0ddd6"/>
<rect x="380.5" y="525.6" width="2.3" height="2.2" fill="#b0ddd6"/>
<rect x="383.5" y="524.4" width="2.3" height="3.4" fill="#1a9f8a"/>
<rect x="386.4" y="524.3" width="2.3" height="3.5" fill="#1a9f8a"/>
<rect x="389.3" y="524.8" width="2.3" height="3.0" fill="#b0ddd6"/>
<rect x="392.3" y="524.9" width="2.3" height="2.9" fill="#b0ddd6"/>
<rect x="395.2" y="524.9" width="2.3" height="2.9" fill="#b0ddd6"/>
<rect x="398.1" y="524.9" width="2.3" height="2.9" fill="#b0ddd6"/>
<rect x="401.0" y="525.0" width="2.3" height="2.8" fill="#b0ddd6"/>
<rect x="404.0" y="524.6" width="2.3" height="3.2" fill="#1a9f8a"/>
<rect x="406.9" y="524.8" width="2.3" height="3.0" fill="#b0ddd6"/>
<rect x="409.8" y="524.8" width="2.3" height="3.0" fill="#b0ddd6"/>
<rect x="412.7" y="524.5" width="2.3" height="3.3" fill="#1a9f8a"/>
<rect x="415.7" y="524.4" width="2.3" height="3.4" fill="#1a9f8a"/>
<rect x="418.6" y="524.3" width="2.3" height="3.5" fill="#1a9f8a"/>
<rect x="421.5" y="524.3" width="2.3" height="3.5" fill="#1a9f8a"/>
<rect x="424.4" y="524.6" width="2.3" height="3.2" fill="#b0ddd6"/>
<rect x="427.4" y="524.6" width="2.3" height="3.2" fill="#b0ddd6"/>
<rect x="430.3" y="524.4" width="2.3" height="3.4" fill="#1a9f8a"/>
<rect x="433.2" y="524.8" width="2.3" height="3.0" fill="#b0ddd6"/>
<rect x="436.1" y="524.8" width="2.3" height="3.0" fill="#1a9f8a"/>
<rect x="439.1" y="525.4" width="2.3" height="2.4" fill="#b0ddd6"/>
<rect x="442.0" y="525.8" width="2.3" height="2.0" fill="#b0ddd6"/>
<rect x="444.9" y="526.2" width="2.3" height="1.6" fill="#b0ddd6"/>
<rect x="447.8" y="526.6" width="2.3" height="1.2" fill="#b0ddd6"/>
<rect x="450.8" y="527.0" width="2.3" height="0.8" fill="#b0ddd6"/>
<rect x="459.5" y="527.8" width="2.3" height="1.1" fill="#ee3d4c"/>
<rect x="462.5" y="527.8" width="2.3" height="1.5" fill="#ee3d4c"/>
<rect x="465.4" y="527.8" width="2.3" height="1.8" fill="#ee3d4c"/>
<rect x="468.3" y="527.8" width="2.3" height="2.2" fill="#ee3d4c"/>
<rect x="471.3" y="527.8" width="2.3" height="2.5" fill="#ee3d4c"/>
<rect x="474.2" y="527.8" width="2.3" height="2.9" fill="#ee3d4c"/>
<rect x="477.1" y="527.8" width="2.3" height="3.2" fill="#ee3d4c"/>
<rect x="480.0" y="527.8" width="2.3" height="3.6" fill="#ee3d4c"/>
<rect x="483.0" y="527.8" width="2.3" height="3.4" fill="#fbc9cd"/>
<rect x="485.9" y="527.8" width="2.3" height="4.0" fill="#ee3d4c"/>
<rect x="488.8" y="527.8" width="2.3" height="4.0" fill="#ee3d4c"/>
<rect x="491.7" y="527.8" width="2.3" height="4.0" fill="#ee3d4c"/>
<rect x="494.7" y="527.8" width="2.3" height="2.7" fill="#fbc9cd"/>
<rect x="497.6" y="527.8" width="2.3" height="2.5" fill="#fbc9cd"/>
<rect x="500.5" y="527.8" width="2.3" height="2.3" fill="#fbc9cd"/>
<rect x="503.4" y="527.8" width="2.3" height="2.0" fill="#fbc9cd"/>
<rect x="506.4" y="527.8" width="2.3" height="1.8" fill="#fbc9cd"/>
<rect x="509.3" y="527.8" width="2.3" height="1.6" fill="#fbc9cd"/>
<rect x="512.2" y="527.8" width="2.3" height="1.4" fill="#fbc9cd"/>
<rect x="515.1" y="527.8" width="2.3" height="1.2" fill="#fbc9cd"/>
<rect x="518.1" y="527.8" width="2.3" height="0.9" fill="#fbc9cd"/>
<rect x="521.0" y="527.8" width="2.3" height="0.5" fill="#e9c9e9"/>
<rect x="523.9" y="527.8" width="2.3" height="0.5" fill="#e9c9e9"/>
<rect x="526.8" y="527.8" width="2.3" height="0.4" fill="#e9c9e9"/>
<rect x="529.8" y="527.8" width="2.3" height="0.4" fill="#e9c9e9"/>
<rect x="532.7" y="527.8" width="2.3" height="0.4" fill="#e9c9e9"/>
<rect x="535.6" y="527.8" width="2.3" height="0.3" fill="#e9c9e9"/>
<rect x="538.6" y="527.8" width="2.3" height="0.3" fill="#e9c9e9"/>
<rect x="541.5" y="527.8" width="2.3" height="1.2" fill="#7a6a6a"/>
<rect x="544.4" y="527.5" width="2.3" height="0.3" fill="#b0ddd6"/>
<rect x="547.3" y="527.5" width="2.3" height="0.3" fill="#b0ddd6"/>
<rect x="550.3" y="527.4" width="2.3" height="0.4" fill="#b0ddd6"/>
<rect x="553.2" y="527.4" width="2.3" height="0.4" fill="#b0ddd6"/>
<rect x="556.1" y="526.7" width="2.3" height="1.1" fill="#2f9a78"/>
<rect x="559.0" y="526.3" width="2.3" height="1.5" fill="#2f9a78"/>
<rect x="562.0" y="525.9" width="2.3" height="1.9" fill="#2f9a78"/>
<rect x="564.9" y="525.4" width="2.3" height="2.4" fill="#2f9a78"/>
<rect x="567.8" y="525.0" width="2.3" height="2.8" fill="#2f9a78"/>
<rect x="570.7" y="524.6" width="2.3" height="3.2" fill="#2f9a78"/>
<rect x="573.7" y="524.2" width="2.3" height="3.6" fill="#2f9a78"/>
<rect x="576.6" y="523.8" width="2.3" height="4.0" fill="#2f9a78"/>
<rect x="579.5" y="523.4" width="2.3" height="4.4" fill="#2f9a78"/>
<line x1="582" y1="527.9" x2="778" y2="527.9" stroke="#d5d8de" stroke-width="0.6" stroke-dasharray="1 1"/>
<polyline points="0,518.6 20,521 45,525.2 70,530 95,535.4 109.4,538.1 125,536.2 150,532.8 177,530.2 200,529.8 260,529.9 300,529.4 340,528.4 360,527.2 380,524.8 400,521.8 430,519.4 448.2,516.3 460,517.2 480,520 505,523.4 541.6,526.7 556,527.3 564,526.6 572,524.8 580.7,522.8" fill="none" stroke="#f0872e" stroke-width="0.9" stroke-linejoin="round"/>
<polyline points="0,521.6 20,524 45,528 70,533 90,537.8 103,540.3 115,538.3 135,534.6 160,531.2 177,529.4 200,528.6 260,528.3 300,528.1 340,527.6 356,527 366,524.6 380,522.4 400,519.1 430,515.8 446,515.0 455,516.5 470,519.8 490,523.8 517.7,527.4 555.7,527.6 562,525.6 570,522.2 580.7,518.5" fill="none" stroke="#4a76e8" stroke-width="0.9" stroke-linejoin="round"/>
<text x="6" y="467.6" font-size="8.2" fill="#131722" textLength="68" lengthAdjust="spacingAndGlyphs" >MACD 24 52 close</text>
<circle cx="86" cy="464.4" r="5.1" fill="#eadcfb"/>
<path d="M82.9 464.4 A3.1 3.1 0 0 1 88.4 462.4 M89.1 464.4 A3.1 3.1 0 0 1 83.6 466.4" fill="none" stroke="#6a2fc0" stroke-width="1.3"/>
<path d="M87.4 460.6 L89.6 463.1 L86.6 463.5 Z M84.6 468.2 L82.4 465.7 L85.4 465.3 Z" fill="#6a2fc0"/>
<text x="97" y="467.6" font-size="8.2" fill="#b9d9d3" textLength="21.6" lengthAdjust="spacingAndGlyphs" >25.66</text>
<text x="123.7" y="467.6" font-size="8.2" fill="#4a62c8" textLength="20.6" lengthAdjust="spacingAndGlyphs" >51.81</text>
<text x="149.8" y="467.6" font-size="8.2" fill="#ee8c34" textLength="21.6" lengthAdjust="spacingAndGlyphs" >26.15</text>
<text x="814.8" y="435.55" font-size="8.2" fill="#131722" text-anchor="end" textLength="31.4" lengthAdjust="spacingAndGlyphs" >2,700.00</text>
<text x="814.8" y="398.35" font-size="8.2" fill="#131722" text-anchor="end" textLength="31.4" lengthAdjust="spacingAndGlyphs" >2,800.00</text>
<text x="814.8" y="361.15000000000003" font-size="8.2" fill="#131722" text-anchor="end" textLength="31.4" lengthAdjust="spacingAndGlyphs" >2,900.00</text>
<text x="814.8" y="323.95" font-size="8.2" fill="#131722" text-anchor="end" textLength="31.4" lengthAdjust="spacingAndGlyphs" >3,000.00</text>
<text x="814.8" y="286.75" font-size="8.2" fill="#131722" text-anchor="end" textLength="31.4" lengthAdjust="spacingAndGlyphs" >3,100.00</text>
<text x="814.8" y="249.54999999999998" font-size="8.2" fill="#131722" text-anchor="end" textLength="31.4" lengthAdjust="spacingAndGlyphs" >3,200.00</text>
<text x="814.8" y="175.14999999999998" font-size="8.2" fill="#131722" text-anchor="end" textLength="31.4" lengthAdjust="spacingAndGlyphs" >3,400.00</text>
<text x="814.8" y="137.95" font-size="8.2" fill="#131722" text-anchor="end" textLength="31.4" lengthAdjust="spacingAndGlyphs" >3,500.00</text>
<text x="814.8" y="100.75000000000001" font-size="8.2" fill="#131722" text-anchor="end" textLength="31.4" lengthAdjust="spacingAndGlyphs" >3,600.00</text>
<text x="814.8" y="63.550000000000004" font-size="8.2" fill="#131722" text-anchor="end" textLength="31.4" lengthAdjust="spacingAndGlyphs" >3,700.00</text>
<text x="807.8" y="462.45" font-size="8.2" fill="#131722" text-anchor="end" textLength="23.5" lengthAdjust="spacingAndGlyphs" >400.00</text>
<text x="807.8" y="495.34999999999997" font-size="8.2" fill="#131722" text-anchor="end" textLength="23.5" lengthAdjust="spacingAndGlyphs" >200.00</text>
<text x="807.8" y="530.6500000000001" font-size="8.2" fill="#131722" text-anchor="end" >0.00</text>
<text x="812" y="564.75" font-size="8.2" fill="#131722" text-anchor="end" textLength="28.5" lengthAdjust="spacingAndGlyphs" >−200.00</text>
<rect x="737.2" y="199.8" width="39" height="11.8" fill="#ea3a4c"/>
<text x="756.7" y="208.6" font-size="8" fill="#fff" text-anchor="middle" font-weight="bold" textLength="33" lengthAdjust="spacingAndGlyphs" >ETHUSDT</text>
<rect x="777.4" y="199.8" width="40.8" height="21.2" fill="#ea3a4c"/>
<text x="783" y="208.4" font-size="8.2" fill="#fff" font-weight="bold" textLength="31.5" lengthAdjust="spacingAndGlyphs" >3,311.36</text>
<text x="783" y="217.8" font-size="8.2" fill="#ffd9dc" textLength="20" lengthAdjust="spacingAndGlyphs" >52:46</text>
<rect x="778.3" y="494.4" width="28.1" height="11.6" fill="#3d62e0"/>
<text x="792.3" y="503.3" font-size="8.2" fill="#fff" text-anchor="middle" font-weight="bold" textLength="21.5" lengthAdjust="spacingAndGlyphs" >51.81</text>
<rect x="778.3" y="506.3" width="28.1" height="11.3" fill="#f07a22"/>
<text x="792.3" y="515" font-size="8.2" fill="#fff" text-anchor="middle" font-weight="bold" textLength="21.5" lengthAdjust="spacingAndGlyphs" >26.15</text>
<rect x="778.3" y="517.9" width="28.1" height="11" fill="#b5ded8"/>
<text x="792.3" y="526.5" font-size="8.2" fill="#131722" text-anchor="middle" textLength="21.5" lengthAdjust="spacingAndGlyphs" >25.66</text>
<rect x="824.7" y="205" width="5" height="7.8" fill="#ee4858"/>
<rect x="824.7" y="266.3" width="5" height="7.5" fill="#ee4858"/>
<rect x="824.7" y="286.6" width="5" height="7.9" fill="#ee4858"/>
<rect x="824.7" y="327.5" width="5" height="7.9" fill="#ee4858"/>
<rect x="824.7" y="388.8" width="5" height="7.6" fill="#ee4858"/>
<rect x="824.7" y="409" width="5" height="7.5" fill="#ee4858"/>
<rect x="824.7" y="429.3" width="5" height="7.7" fill="#ee4858"/>
<rect x="824.7" y="347.8" width="5" height="7.7" fill="#3d62e0"/>
<rect x="825.6" y="240.6" width="8" height="18.4" rx="2.2" fill="#fff" stroke="#222" stroke-width="1"/>
<text x="30.7" y="606.1" font-size="8.2" fill="#131722" text-anchor="middle" >15</text>
<text x="65.6" y="606.1" font-size="8.2" fill="#131722" text-anchor="middle" >17</text>
<text x="100.8" y="606.1" font-size="8.2" fill="#131722" text-anchor="middle" >19</text>
<text x="135.9" y="606.1" font-size="8.2" fill="#131722" text-anchor="middle" >21</text>
<text x="171" y="606.1" font-size="8.2" fill="#131722" text-anchor="middle" >23</text>
<text x="206.1" y="606.1" font-size="8.2" fill="#131722" text-anchor="middle" >25</text>
<text x="241.2" y="606.1" font-size="8.2" fill="#131722" text-anchor="middle" >27</text>
<text x="276.3" y="606.1" font-size="8.2" fill="#131722" text-anchor="middle" >29</text>
<text x="329" y="606.1" font-size="8.2" fill="#131722" text-anchor="middle" >2026</text>
<text x="364.2" y="606.1" font-size="8.2" fill="#131722" text-anchor="middle" >3</text>
<text x="399.3" y="606.1" font-size="8.2" fill="#131722" text-anchor="middle" >5</text>
<text x="434.4" y="606.1" font-size="8.2" fill="#131722" text-anchor="middle" >7</text>
<text x="469.5" y="606.1" font-size="8.2" fill="#131722" text-anchor="middle" >9</text>
<text x="504.6" y="606.1" font-size="8.2" fill="#131722" text-anchor="middle" >11</text>
<text x="539.8" y="606.1" font-size="8.2" fill="#131722" text-anchor="middle" >13</text>
<text x="574.9" y="606.1" font-size="8.2" fill="#131722" text-anchor="middle" >15</text>
<text x="610" y="606.1" font-size="8.2" fill="#131722" text-anchor="middle" >17</text>
<text x="645.1" y="606.1" font-size="8.2" fill="#131722" text-anchor="middle" >19</text>
<text x="680.2" y="606.1" font-size="8.2" fill="#131722" text-anchor="middle" >21</text>
<text x="715.4" y="606.1" font-size="8.2" fill="#131722" text-anchor="middle" >23</text>
<text x="750.5" y="606.1" font-size="8.2" fill="#131722" text-anchor="middle" >25</text>
<path d="M799.2 598.6 L803.3 600.95 V605.65 L799.2 608 L795.1 605.65 V600.95 Z" fill="none" stroke="#2a2e39" stroke-width="0.9" transform="rotate(30 799.2 603.3)"/>
<circle cx="799.2" cy="603.3" r="1.6" fill="none" stroke="#2a2e39" stroke-width="0.9"/>
<path d="M8.1 573.9 H17.7 V583.3 H12.7 V577.8 H8.1 Z" fill="#111"/>
<circle cx="19.9" cy="575.5" r="1.5" fill="#111"/>
<path d="M23.6 573.9 H28.7 L23.6 583.3 H18.6 Z" fill="#111"/>
<circle cx="8.1" cy="10.1" r="3.7" fill="none" stroke="#1c1f28" stroke-width="1"/><line x1="10.8" y1="12.8" x2="13.4" y2="15.3" stroke="#1c1f28" stroke-width="1.1"/>
<text x="18" y="13.9" font-size="9.6" fill="#131722" font-weight="bold" textLength="40.5" lengthAdjust="spacingAndGlyphs" >ETHUSDT</text>
<path d="M74.2 6.8 H80.9 L82.9 9.8 L77.55 15 L72.2 9.8 Z" fill="none" stroke="#1c1f28" stroke-width="1.1" stroke-linejoin="round"/><circle cx="75.8" cy="9.4" r="0.85" fill="#1c1f28"/><circle cx="79.3" cy="9.4" r="0.85" fill="#1c1f28"/>
<path d="M87.1 9 L89.8 11.7 L92.5 9" fill="none" stroke="#1c1f28" stroke-width="1.05"/>
<circle cx="114.05" cy="11" r="6.2" fill="none" stroke="#1c1f28" stroke-width="0.95"/><path d="M111.1 11 H117 M114.05 8.05 V13.95" stroke="#1c1f28" stroke-width="0.85"/>
<line x1="130.3" y1="4" x2="130.3" y2="18" stroke="#eceef2" stroke-width="0.8"/>
<text x="138" y="14.3" font-size="9.6" fill="#1c1f28" textLength="13.5" lengthAdjust="spacingAndGlyphs" stroke="#1c1f28" stroke-width="0.2">5分</text>
<text x="160.8" y="14.3" font-size="9.6" fill="#1c1f28" textLength="17.6" lengthAdjust="spacingAndGlyphs" stroke="#1c1f28" stroke-width="0.2">30分</text>
<text x="188.8" y="14.3" font-size="9.6" fill="#1c1f28" textLength="22.5" lengthAdjust="spacingAndGlyphs" stroke="#1c1f28" stroke-width="0.2">1小时</text>
<rect x="217.8" y="0" width="30" height="23.8" fill="#f1f2f5"/>
<text x="219.9" y="14.3" font-size="9.6" fill="#131722" textLength="23" lengthAdjust="spacingAndGlyphs" stroke="#131722" stroke-width="0.4">4小时</text>
<text x="252" y="14.3" font-size="9.6" fill="#1c1f28" textLength="10.5" lengthAdjust="spacingAndGlyphs" stroke="#1c1f28" stroke-width="0.2">天</text>
<path d="M272.2 9.8 L274.6 12.2 L277 9.8" fill="none" stroke="#1c1f28" stroke-width="0.9"/>
<path d="M299.6 4.2 V6.8 M299.6 15.2 V17.7 M305.2 5.9 V8.4 M305.2 13.5 V16" stroke="#1c1f28" stroke-width="1"/><rect x="297.8" y="6.8" width="3.6" height="8.4" rx="0.8" fill="none" stroke="#1c1f28" stroke-width="1"/><rect x="303.6" y="8.4" width="3.2" height="5.1" rx="0.8" fill="none" stroke="#1c1f28" stroke-width="1"/>
<line x1="318" y1="4" x2="318" y2="18" stroke="#eceef2" stroke-width="0.8"/>
<path d="M328.6 10.3 L331.8 7.2 L334.6 9 L339.4 4.9" fill="none" stroke="#1c1f28" stroke-width="1"/><path d="M329.2 16.4 V13.6 H331.4 V16.4 M333 16.4 V11.8 H335.2 V16.4 M336.8 16.4 V9.8 H339 V16.4 M328 16.6 H340.2" fill="none" stroke="#1c1f28" stroke-width="0.85"/>
<text x="346.6" y="14.3" font-size="9.6" fill="#1c1f28" textLength="18" lengthAdjust="spacingAndGlyphs" stroke="#1c1f28" stroke-width="0.2">指标</text>
<path d="M377.2 9.8 L379.6 12.2 L382 9.8" fill="none" stroke="#1c1f28" stroke-width="0.9"/>
<rect x="395.8" y="5.3" width="4.4" height="4.6" rx="1" fill="none" stroke="#1c1f28" stroke-width="0.9"/>
<rect x="402.3" y="5.3" width="4.4" height="4.6" rx="1" fill="none" stroke="#1c1f28" stroke-width="0.9"/>
<rect x="395.8" y="12" width="4.4" height="4.6" rx="1" fill="none" stroke="#1c1f28" stroke-width="0.9"/>
<rect x="402.3" y="12" width="4.4" height="4.6" rx="1" fill="none" stroke="#1c1f28" stroke-width="0.9"/>
<line x1="417" y1="4" x2="417" y2="18" stroke="#eceef2" stroke-width="0.8"/>
<path d="M435.6 15.2 A5.4 5.4 0 1 1 437.7 11.6" fill="none" stroke="#1c1f28" stroke-width="1"/><path d="M432.4 7.6 V11 H430.2" fill="none" stroke="#1c1f28" stroke-width="0.9"/><path d="M427.2 6.3 L429.6 4.3 M437.6 6.3 L435.2 4.3" stroke="#1c1f28" stroke-width="1"/><path d="M437.4 12.8 V17.4 M435.1 15.1 H439.7" stroke="#1c1f28" stroke-width="1"/>
<text x="445.4" y="14.3" font-size="9.6" fill="#1c1f28" textLength="18.6" lengthAdjust="spacingAndGlyphs" stroke="#1c1f28" stroke-width="0.2">警报</text>
<path d="M484.6 7.8 L480 11 L484.6 14.2 Z M490.2 7.8 L485.6 11 L490.2 14.2 Z" fill="none" stroke="#1c1f28" stroke-width="0.9" stroke-linejoin="round"/>
<text x="496" y="14.3" font-size="9.6" fill="#1c1f28" textLength="19" lengthAdjust="spacingAndGlyphs" stroke="#1c1f28" stroke-width="0.2">回放</text>
<path d="M540 8 L537 10.5 L540 13 M537.2 10.5 H543 Q546.3 10.8 546.3 14.5" fill="none" stroke="#1c1f28" stroke-width="0.95"/>
<path d="M568.5 8 L571.5 10.5 L568.5 13 M571.3 10.5 H565.5 Q562.2 10.8 562.2 14.5" fill="none" stroke="#c3c6ce" stroke-width="0.95"/>
<rect x="755.3" y="4.9" width="12.5" height="10.9" rx="1.8" fill="none" stroke="#333" stroke-width="1"/>
<text x="778.5" y="11.3" font-size="9.6" fill="#131722" textLength="39.2" lengthAdjust="spacingAndGlyphs" stroke="#131722" stroke-width="0.25">Unnamed</text>
<text x="798.5" y="18.6" font-size="6.2" fill="#4a6ad8" text-anchor="middle" >保存</text>
<text x="827.3" y="11.3" font-size="9.6" fill="#131722" >.</text>
<circle cx="14.5" cy="35" r="3" fill="#d4f3f1" stroke="#1a8c82" stroke-width="1.4"/>
<circle cx="10.1" cy="39.3" r="4.7" fill="#fff"/>
<circle cx="10.1" cy="39.3" r="3.9" fill="#2f327c"/>
<ellipse cx="10.3" cy="39.4" rx="2" ry="2.6" fill="#8a8ff0"/>
<path d="M10.2 36.9 L11.7 39.6 L10.2 40.5 L8.7 39.6 Z M10.2 41 L11.6 40.1 L10.2 42 L8.8 40.1 Z" fill="#c9ccff"/>
<text x="21.4" y="41.4" font-size="10.9" fill="#131722" textLength="147" lengthAdjust="spacingAndGlyphs" >Ethereum/Tether · 4小时 · OKX</text>
<circle cx="179.7" cy="37.2" r="4.3" fill="#d4f0ea"/><circle cx="179.7" cy="37.2" r="2.2" fill="#1a9f8a"/>
<text x="191.5" y="40.0" font-size="8.5" fill="#131722" >开=</text>
<text x="205.3" y="40.0" font-size="8.9" fill="#e8475b" textLength="35" lengthAdjust="spacingAndGlyphs" >3,354.75</text>
<text x="245" y="40.0" font-size="8.5" fill="#131722" >高=</text>
<text x="258.8" y="40.0" font-size="8.9" fill="#e8475b" textLength="35" lengthAdjust="spacingAndGlyphs" >3,355.65</text>
<text x="297.3" y="40.0" font-size="8.5" fill="#131722" >低=</text>
<text x="311.1" y="40.0" font-size="8.9" fill="#e8475b" textLength="35" lengthAdjust="spacingAndGlyphs" >3,305.38</text>
<text x="350.4" y="40.0" font-size="8.5" fill="#131722" >收=</text>
<text x="364.2" y="40.0" font-size="8.9" fill="#e8475b" textLength="34" lengthAdjust="spacingAndGlyphs" >3,311.36</text>
<text x="403.4" y="40.0" font-size="8.9" fill="#e8475b" textLength="62" lengthAdjust="spacingAndGlyphs" >−43.39 (−1.29%)</text>
<rect x="5.5" y="48.6" width="49.3" height="22" rx="3" fill="#fff" stroke="#f08a95" stroke-width="0.9"/>
<text x="30.2" y="58.2" font-size="8.6" fill="#d8404f" text-anchor="middle" font-weight="bold" textLength="34" lengthAdjust="spacingAndGlyphs" >3,311.36</text>
<text x="30.2" y="67.4" font-size="7.6" fill="#ee4a5b" text-anchor="middle" >卖出</text>
<text x="66.5" y="62.7" font-size="7.2" fill="#40434d" text-anchor="middle" >0.01</text>
<rect x="79.3" y="48.6" width="48.7" height="22" rx="3" fill="#fff" stroke="#8c9fef" stroke-width="0.9"/>
<text x="103.7" y="58.2" font-size="8.6" fill="#4a5cc0" text-anchor="middle" font-weight="bold" textLength="34" lengthAdjust="spacingAndGlyphs" >3,311.37</text>
<text x="103.7" y="67.4" font-size="7.6" fill="#5270e0" text-anchor="middle" >买入</text>
<text x="6" y="85.4" font-size="8.2" fill="#b4b7bf" textLength="70" lengthAdjust="spacingAndGlyphs" >BB 20 SMA close 2</text>
<path d="M83.1 82.6 Q88.3 75.6 93.5 82.6 Q88.3 89.6 83.1 82.6 Z" fill="none" stroke="#2a2e39" stroke-width="1.05"/><circle cx="88.3" cy="82.6" r="2" fill="none" stroke="#2a2e39" stroke-width="1.05"/><line x1="84.5" y1="86.8" x2="92.1" y2="78.39999999999999" stroke="#2a2e39" stroke-width="1.05"/>
<text x="6" y="101.6" font-size="8.2" fill="#b4b7bf" textLength="166.5" lengthAdjust="spacingAndGlyphs" >MA Ribbon SMA 5 SMA 90 SMA 150 SMA 360</text>
<path d="M179.8 98.8 Q185 91.8 190.2 98.8 Q185 105.8 179.8 98.8 Z" fill="none" stroke="#2a2e39" stroke-width="1.05"/><circle cx="185" cy="98.8" r="2" fill="none" stroke="#2a2e39" stroke-width="1.05"/><line x1="181.2" y1="103.0" x2="188.8" y2="94.6" stroke="#2a2e39" stroke-width="1.05"/>
<text x="6" y="118" font-size="8.2" fill="#b4b7bf" textLength="36" lengthAdjust="spacingAndGlyphs" >Vol · ETH</text>
<path d="M49.099999999999994 115.2 Q54.3 108.2 59.5 115.2 Q54.3 122.2 49.099999999999994 115.2 Z" fill="none" stroke="#2a2e39" stroke-width="1.05"/><circle cx="54.3" cy="115.2" r="2" fill="none" stroke="#2a2e39" stroke-width="1.05"/><line x1="50.5" y1="119.4" x2="58.099999999999994" y2="111.0" stroke="#2a2e39" stroke-width="1.05"/>
<text x="6" y="134.2" font-size="8.2" fill="#b4b7bf" textLength="48.5" lengthAdjust="spacingAndGlyphs" >6 MA System</text>
<path d="M61.8 131.4 Q67 124.4 72.2 131.4 Q67 138.4 61.8 131.4 Z" fill="none" stroke="#2a2e39" stroke-width="1.05"/><circle cx="67" cy="131.4" r="2" fill="none" stroke="#2a2e39" stroke-width="1.05"/><line x1="63.2" y1="135.6" x2="70.8" y2="127.2" stroke="#2a2e39" stroke-width="1.05"/>
<rect x="5.5" y="142.5" width="19" height="12.6" rx="2.2" fill="#fff" stroke="#e4e6eb" stroke-width="0.9"/>
<path d="M12.6 150 L15 147.6 L17.4 150" fill="none" stroke="#2a2e39" stroke-width="1.1"/>
</svg></body></html>
